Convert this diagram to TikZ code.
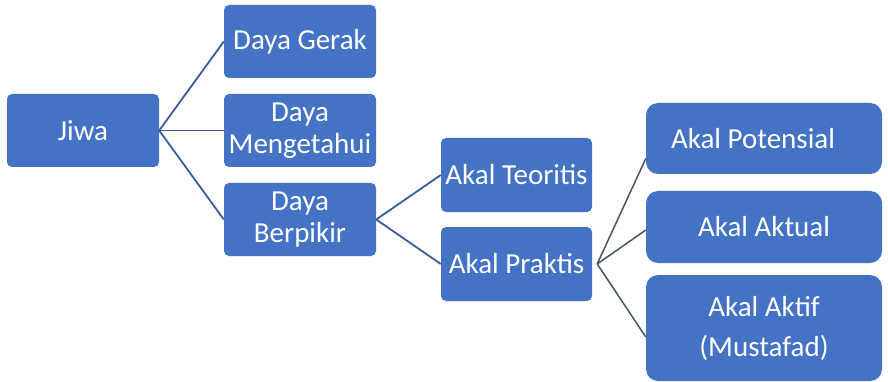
\documentclass[tikz,border=0pt]{standalone}
\usepackage{fontspec}
\setmainfont{Carlito}
\definecolor{boxblue}{HTML}{4472C4}
\definecolor{linkblue}{HTML}{3A5C9E}
\definecolor{linkgray}{HTML}{44546A}
\begin{document}
\begin{tikzpicture}
		[x=1pt, y=-1pt,
		every node/.style={inner sep=0pt, fill=boxblue, text=white, align=center, font=\fontsize{29}{32}\selectfont},
		small/.style={minimum width=152pt, minimum height=73pt, rounded corners=5pt},
		big/.style={minimum width=236pt, minimum height=72pt, rounded corners=12pt}]
		\useasboundingbox (0,0) rectangle (888,382);
		\node[small] (jiwa) at (83,130.5) {Jiwa};
		\node[small] (gerak) at (300,41.5) {Daya Gerak};
		\node[small] (tahu) at (300,130.5) {Daya\\Mengetahui};
		\node[small] (pikir) at (300,219.5) {Daya\\Berpikir};
		
		\node[small, minimum width=151pt, minimum height=74pt] (teoritis) at (516.5,175) {Akal Teoritis};
		\node[small, minimum width=151pt, minimum height=74pt] (praktis) at (516.5,264) {Akal Praktis};
		
		\node[big, minimum height=71pt] (potensial) at (764,138.5) {Akal Potensial\hspace*{22pt}};
		\node[big] (aktual) at (764,227) {Akal Aktual};
		\node[big, minimum height=106pt] (aktif) at (764,328) {Akal Aktif\\[8pt](Mustafad)};
		
		\path[draw=linkblue, line width=1.8pt] (jiwa.east) edge (gerak.west) edge (tahu.west) edge (pikir.west);
		\path[draw=linkblue, line width=1.8pt] (pikir.east) edge (teoritis.west) edge (praktis.west);
		\path[draw=linkgray, line width=1.5pt] ([xshift=5pt]praktis.east) edge ([yshift=-20pt]potensial.west)
			edge ([yshift=-3pt]aktual.west) edge ([yshift=-9pt]aktif.west);
		\end{tikzpicture}
\end{document}
